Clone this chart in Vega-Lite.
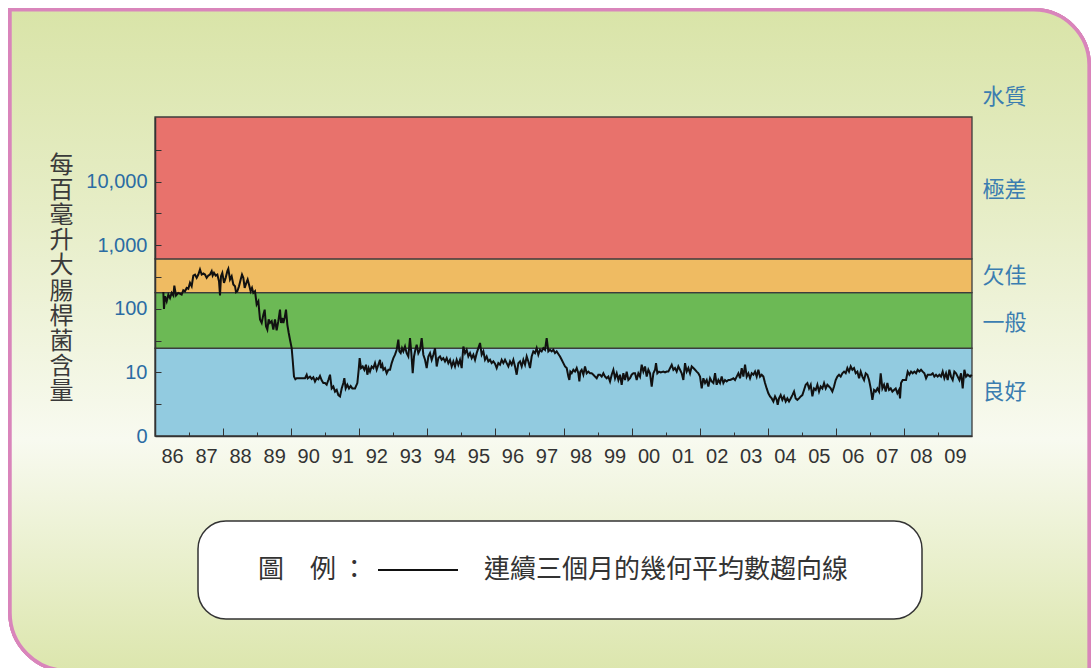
{
  "$schema": "https://vega.github.io/schema/vega-lite/v6.json",
  "width": 817,
  "height": 319,
  "autosize": {"type": "none"},
  "padding": {"left": 155, "top": 117, "right": 119, "bottom": 232},
  "background": "#ffffff",
  "config": {
    "view": {"stroke": null},
    "axis": {"grid": false, "labelFont": "Liberation Sans"}
  },
  "datasets": {
    "bands": [
      {"grade": "良好", "lo": 1, "hi": 24},
      {"grade": "一般", "lo": 24, "hi": 180},
      {"grade": "欠佳", "lo": 180, "hi": 610},
      {"grade": "極差", "lo": 610, "hi": 104000}
    ],
    "series": [
      {"t":1986.245,"v":184},{"t":1986.264,"v":99.5},{"t":1986.294,"v":158},{"t":1986.343,"v":131},{"t":1986.392,"v":167},{"t":1986.441,"v":148},{"t":1986.490,"v":178},{"t":1986.539,"v":162},{"t":1986.568,"v":232},{"t":1986.617,"v":162},{"t":1986.685,"v":178},{"t":1986.783,"v":167},{"t":1986.832,"v":196},{"t":1986.881,"v":189},{"t":1986.930,"v":213},{"t":1986.979,"v":206},
      {"t":1987.028,"v":256},{"t":1987.077,"v":227},{"t":1987.126,"v":334},{"t":1987.175,"v":346},{"t":1987.224,"v":307},{"t":1987.273,"v":346},{"t":1987.322,"v":415},{"t":1987.371,"v":346},{"t":1987.420,"v":359},{"t":1987.469,"v":346},{"t":1987.518,"v":307},{"t":1987.567,"v":334},{"t":1987.616,"v":346},{"t":1987.665,"v":391},{"t":1987.694,"v":334},{"t":1987.733,"v":368},{"t":1987.782,"v":334},{"t":1987.831,"v":346},{"t":1987.880,"v":272},{"t":1987.910,"v":162},{"t":1987.939,"v":326},{"t":1987.978,"v":368},
      {"t":1988.027,"v":256},{"t":1988.076,"v":307},{"t":1988.125,"v":391},{"t":1988.154,"v":426},{"t":1988.203,"v":289},{"t":1988.252,"v":326},{"t":1988.301,"v":241},{"t":1988.350,"v":227},{"t":1988.380,"v":182},{"t":1988.419,"v":189},{"t":1988.468,"v":227},{"t":1988.517,"v":289},{"t":1988.556,"v":346},{"t":1988.595,"v":307},{"t":1988.634,"v":213},{"t":1988.683,"v":256},{"t":1988.722,"v":289},{"t":1988.761,"v":241},{"t":1988.810,"v":189},{"t":1988.850,"v":213},{"t":1988.889,"v":178},{"t":1988.938,"v":189},{"t":1988.987,"v":117},
      {"t":1989.036,"v":131},{"t":1989.085,"v":68},{"t":1989.134,"v":60},{"t":1989.183,"v":81},{"t":1989.222,"v":97},{"t":1989.261,"v":53},{"t":1989.300,"v":47},{"t":1989.339,"v":68},{"t":1989.378,"v":60},{"t":1989.427,"v":64},{"t":1989.476,"v":47},{"t":1989.525,"v":68},{"t":1989.574,"v":46},{"t":1989.623,"v":64},{"t":1989.672,"v":97},{"t":1989.702,"v":60},{"t":1989.741,"v":72},{"t":1989.770,"v":60},{"t":1989.809,"v":72},{"t":1989.848,"v":97},{"t":1989.888,"v":56},{"t":1989.927,"v":42},{"t":1989.966,"v":32.7},
      {"t":1990.015,"v":24.1},{"t":1990.044,"v":15.8},{"t":1990.083,"v":8.6},{"t":1990.123,"v":7.8},{"t":1990.162,"v":8.1},{"t":1990.407,"v":8.1},{"t":1990.456,"v":9.2},{"t":1990.485,"v":8.1},{"t":1990.553,"v":8.6},{"t":1990.602,"v":7.9},{"t":1990.651,"v":8.4},{"t":1990.700,"v":7.2},{"t":1990.749,"v":8.1},{"t":1990.798,"v":7.8},{"t":1990.847,"v":8.8},{"t":1990.896,"v":7.5},{"t":1990.945,"v":6.8},{"t":1990.994,"v":6.8},
      {"t":1991.043,"v":6.4},{"t":1991.092,"v":7.6},{"t":1991.141,"v":9.2},{"t":1991.190,"v":5.6},{"t":1991.239,"v":6.0},{"t":1991.288,"v":5.0},{"t":1991.337,"v":5.3},{"t":1991.386,"v":4.4},{"t":1991.435,"v":4.2},{"t":1991.484,"v":5.6},{"t":1991.533,"v":6.8},{"t":1991.562,"v":8.1},{"t":1991.601,"v":5.6},{"t":1991.650,"v":6.4},{"t":1991.699,"v":5.6},{"t":1991.748,"v":6.1},{"t":1991.797,"v":5.6},{"t":1991.875,"v":5.6},{"t":1991.944,"v":6.8},{"t":1991.983,"v":11.0},
      {"t":1992.012,"v":16.8},{"t":1992.052,"v":11.7},{"t":1992.101,"v":12.4},{"t":1992.150,"v":11.0},{"t":1992.199,"v":13.2},{"t":1992.238,"v":9.2},{"t":1992.277,"v":11.7},{"t":1992.316,"v":10.3},{"t":1992.365,"v":12.4},{"t":1992.414,"v":11.7},{"t":1992.463,"v":14.0},{"t":1992.512,"v":11.0},{"t":1992.561,"v":13.2},{"t":1992.610,"v":15.8},{"t":1992.639,"v":11.7},{"t":1992.678,"v":13.2},{"t":1992.708,"v":11.0},{"t":1992.757,"v":11.7},{"t":1992.806,"v":9.7},{"t":1992.855,"v":11.0},{"t":1992.904,"v":11.0},{"t":1992.953,"v":14.0},
      {"t":1993.002,"v":16.8},{"t":1993.051,"v":19.0},{"t":1993.100,"v":22.7},{"t":1993.148,"v":32.7},{"t":1993.178,"v":21.4},{"t":1993.217,"v":20.1},{"t":1993.256,"v":24.1},{"t":1993.295,"v":21.4},{"t":1993.344,"v":25.6},{"t":1993.393,"v":20.1},{"t":1993.442,"v":17.8},{"t":1993.491,"v":34.7},{"t":1993.530,"v":20.1},{"t":1993.570,"v":9.7},{"t":1993.609,"v":17.8},{"t":1993.648,"v":22.7},{"t":1993.687,"v":27.2},{"t":1993.736,"v":20.1},{"t":1993.785,"v":22.7},{"t":1993.834,"v":34.7},{"t":1993.883,"v":19.0},{"t":1993.932,"v":15.8},{"t":1993.981,"v":11.7},
      {"t":1994.030,"v":17.8},{"t":1994.079,"v":20.1},{"t":1994.128,"v":15.8},{"t":1994.177,"v":19.0},{"t":1994.226,"v":24.1},{"t":1994.275,"v":12.4},{"t":1994.324,"v":16.8},{"t":1994.373,"v":17.8},{"t":1994.421,"v":15.8},{"t":1994.470,"v":16.8},{"t":1994.519,"v":14.9},{"t":1994.568,"v":16.8},{"t":1994.617,"v":14.0},{"t":1994.666,"v":15.8},{"t":1994.715,"v":12.4},{"t":1994.764,"v":14.9},{"t":1994.813,"v":12.4},{"t":1994.862,"v":15.8},{"t":1994.911,"v":13.2},{"t":1994.960,"v":15.8},
      {"t":1995.009,"v":11.7},{"t":1995.058,"v":25.6},{"t":1995.107,"v":20.1},{"t":1995.156,"v":22.7},{"t":1995.205,"v":17.8},{"t":1995.254,"v":20.1},{"t":1995.303,"v":16.8},{"t":1995.352,"v":19.0},{"t":1995.401,"v":15.8},{"t":1995.450,"v":20.1},{"t":1995.499,"v":24.1},{"t":1995.548,"v":29},{"t":1995.597,"v":19.0},{"t":1995.646,"v":21.4},{"t":1995.694,"v":15.8},{"t":1995.743,"v":17.8},{"t":1995.792,"v":14.9},{"t":1995.841,"v":15.8},{"t":1995.890,"v":14.0},{"t":1995.939,"v":14.9},{"t":1995.988,"v":13.7},
      {"t":1996.037,"v":11.7},{"t":1996.086,"v":14.0},{"t":1996.135,"v":13.2},{"t":1996.184,"v":15.8},{"t":1996.233,"v":14.0},{"t":1996.282,"v":15.8},{"t":1996.331,"v":14.0},{"t":1996.380,"v":12.4},{"t":1996.429,"v":14.9},{"t":1996.478,"v":13.2},{"t":1996.527,"v":15.8},{"t":1996.576,"v":12.4},{"t":1996.625,"v":9.2},{"t":1996.674,"v":14.0},{"t":1996.723,"v":14.9},{"t":1996.772,"v":12.4},{"t":1996.821,"v":15.8},{"t":1996.870,"v":13.2},{"t":1996.919,"v":17.8},{"t":1996.967,"v":14.9},
      {"t":1997.016,"v":11.7},{"t":1997.065,"v":17.8},{"t":1997.114,"v":21.4},{"t":1997.163,"v":20.1},{"t":1997.212,"v":24.1},{"t":1997.261,"v":19.0},{"t":1997.310,"v":22.7},{"t":1997.359,"v":21.4},{"t":1997.408,"v":24.1},{"t":1997.457,"v":22.7},{"t":1997.506,"v":34.7},{"t":1997.555,"v":21.4},{"t":1997.604,"v":22.7},{"t":1997.653,"v":21.4},{"t":1997.702,"v":22.7},{"t":1997.751,"v":20.1},{"t":1997.800,"v":21.4},{"t":1997.849,"v":19.5},{"t":1997.898,"v":17.8},{"t":1997.947,"v":15.8},{"t":1997.996,"v":14.0},
      {"t":1998.045,"v":12.4},{"t":1998.094,"v":11.7},{"t":1998.143,"v":8.6},{"t":1998.172,"v":7.6},{"t":1998.201,"v":10.3},{"t":1998.241,"v":9.7},{"t":1998.290,"v":11.0},{"t":1998.339,"v":10.3},{"t":1998.388,"v":11.7},{"t":1998.436,"v":9.7},{"t":1998.466,"v":7.2},{"t":1998.495,"v":10.3},{"t":1998.534,"v":11.0},{"t":1998.583,"v":9.2},{"t":1998.632,"v":12.4},{"t":1998.681,"v":9.7},{"t":1998.730,"v":10.3},{"t":1998.779,"v":9.7},{"t":1998.828,"v":9.7},{"t":1998.877,"v":9.2},{"t":1998.926,"v":8.6},{"t":1998.975,"v":8.1},
      {"t":1999.024,"v":9.2},{"t":1999.073,"v":9.2},{"t":1999.122,"v":8.6},{"t":1999.171,"v":9.7},{"t":1999.220,"v":8.6},{"t":1999.269,"v":8.1},{"t":1999.318,"v":8.6},{"t":1999.367,"v":7.2},{"t":1999.416,"v":9.2},{"t":1999.465,"v":11.0},{"t":1999.514,"v":8.1},{"t":1999.563,"v":9.7},{"t":1999.612,"v":7.6},{"t":1999.660,"v":9.2},{"t":1999.709,"v":6.4},{"t":1999.758,"v":9.7},{"t":1999.807,"v":7.6},{"t":1999.856,"v":10.3},{"t":1999.905,"v":7.6},{"t":1999.954,"v":8.1},
      {"t":2000.003,"v":9.2},{"t":2000.052,"v":9.7},{"t":2000.101,"v":9.7},{"t":2000.150,"v":7.6},{"t":2000.199,"v":9.7},{"t":2000.248,"v":8.6},{"t":2000.297,"v":13.2},{"t":2000.346,"v":10.3},{"t":2000.395,"v":12.4},{"t":2000.444,"v":8.6},{"t":2000.493,"v":11.0},{"t":2000.542,"v":9.7},{"t":2000.591,"v":6.0},{"t":2000.640,"v":9.7},{"t":2000.689,"v":11.0},{"t":2000.718,"v":14.0},{"t":2000.757,"v":9.7},{"t":2000.806,"v":10.3},{"t":2000.855,"v":10.0},{"t":2000.934,"v":10.3},{"t":2000.983,"v":10.0},
      {"t":2001.032,"v":10.3},{"t":2001.081,"v":10.3},{"t":2001.130,"v":11.7},{"t":2001.179,"v":13.2},{"t":2001.228,"v":11.0},{"t":2001.276,"v":11.7},{"t":2001.325,"v":10.3},{"t":2001.374,"v":12.4},{"t":2001.423,"v":11.0},{"t":2001.472,"v":9.7},{"t":2001.521,"v":7.6},{"t":2001.570,"v":14.0},{"t":2001.619,"v":10.3},{"t":2001.668,"v":11.7},{"t":2001.717,"v":9.7},{"t":2001.766,"v":12.4},{"t":2001.815,"v":11.7},{"t":2001.864,"v":11.0},{"t":2001.913,"v":10.3},{"t":2001.962,"v":9.7},
      {"t":2002.011,"v":8.6},{"t":2002.060,"v":5.6},{"t":2002.109,"v":8.1},{"t":2002.158,"v":6.8},{"t":2002.207,"v":7.6},{"t":2002.256,"v":6.0},{"t":2002.305,"v":8.1},{"t":2002.354,"v":7.2},{"t":2002.403,"v":6.8},{"t":2002.452,"v":9.7},{"t":2002.500,"v":6.4},{"t":2002.549,"v":7.6},{"t":2002.598,"v":6.8},{"t":2002.647,"v":8.6},{"t":2002.696,"v":6.8},{"t":2002.745,"v":7.6},{"t":2002.794,"v":7.2},{"t":2002.843,"v":7.6},{"t":2002.892,"v":7.6},{"t":2002.941,"v":7.8},{"t":2002.990,"v":8.1},
      {"t":2003.039,"v":7.6},{"t":2003.088,"v":8.6},{"t":2003.137,"v":9.7},{"t":2003.186,"v":8.1},{"t":2003.235,"v":11.7},{"t":2003.284,"v":8.6},{"t":2003.333,"v":13.2},{"t":2003.382,"v":8.6},{"t":2003.431,"v":9.7},{"t":2003.480,"v":8.1},{"t":2003.529,"v":9.7},{"t":2003.578,"v":9.2},{"t":2003.627,"v":10.3},{"t":2003.675,"v":8.6},{"t":2003.724,"v":11.0},{"t":2003.773,"v":8.6},{"t":2003.822,"v":9.2},{"t":2003.871,"v":8.6},{"t":2003.920,"v":6.8},{"t":2003.969,"v":5.6},
      {"t":2004.018,"v":4.7},{"t":2004.067,"v":4.2},{"t":2004.116,"v":3.9},{"t":2004.165,"v":3.5},{"t":2004.214,"v":4.2},{"t":2004.263,"v":3.7},{"t":2004.292,"v":3.1},{"t":2004.331,"v":3.9},{"t":2004.380,"v":4.4},{"t":2004.429,"v":3.7},{"t":2004.478,"v":4.2},{"t":2004.527,"v":3.5},{"t":2004.576,"v":3.9},{"t":2004.625,"v":3.5},{"t":2004.674,"v":3.9},{"t":2004.723,"v":4.4},{"t":2004.772,"v":5.0},{"t":2004.821,"v":3.9},{"t":2004.870,"v":3.7},{"t":2004.919,"v":3.9},{"t":2004.968,"v":4.2},
      {"t":2005.017,"v":4.4},{"t":2005.066,"v":5.3},{"t":2005.115,"v":6.4},{"t":2005.164,"v":6.8},{"t":2005.213,"v":5.6},{"t":2005.262,"v":6.4},{"t":2005.311,"v":4.2},{"t":2005.360,"v":5.6},{"t":2005.409,"v":5.3},{"t":2005.458,"v":6.4},{"t":2005.507,"v":5.0},{"t":2005.556,"v":6.0},{"t":2005.605,"v":5.6},{"t":2005.654,"v":6.8},{"t":2005.703,"v":5.6},{"t":2005.751,"v":6.4},{"t":2005.800,"v":6.0},{"t":2005.849,"v":5.6},{"t":2005.898,"v":5.0},{"t":2005.947,"v":6.0},{"t":2005.996,"v":7.6},
      {"t":2006.045,"v":8.6},{"t":2006.094,"v":9.2},{"t":2006.143,"v":8.6},{"t":2006.192,"v":9.7},{"t":2006.241,"v":10.3},{"t":2006.290,"v":9.7},{"t":2006.339,"v":11.7},{"t":2006.388,"v":10.3},{"t":2006.437,"v":12.4},{"t":2006.486,"v":11.0},{"t":2006.535,"v":11.7},{"t":2006.584,"v":9.7},{"t":2006.633,"v":10.3},{"t":2006.682,"v":8.1},{"t":2006.731,"v":10.3},{"t":2006.780,"v":8.6},{"t":2006.829,"v":7.6},{"t":2006.878,"v":9.7},{"t":2006.927,"v":9.2},{"t":2006.976,"v":7.6},
      {"t":2007.025,"v":5.6},{"t":2007.074,"v":3.7},{"t":2007.123,"v":5.3},{"t":2007.172,"v":5.0},{"t":2007.221,"v":5.6},{"t":2007.270,"v":5.0},{"t":2007.318,"v":9.7},{"t":2007.367,"v":5.6},{"t":2007.416,"v":6.4},{"t":2007.465,"v":5.0},{"t":2007.514,"v":6.8},{"t":2007.563,"v":5.3},{"t":2007.612,"v":5.6},{"t":2007.661,"v":5.0},{"t":2007.710,"v":5.3},{"t":2007.759,"v":5.6},{"t":2007.808,"v":4.7},{"t":2007.857,"v":5.3},{"t":2007.886,"v":3.9},{"t":2007.915,"v":6.8},{"t":2007.964,"v":7.6},
      {"t":2008.013,"v":7.6},{"t":2008.062,"v":7.6},{"t":2008.111,"v":10.3},{"t":2008.160,"v":9.2},{"t":2008.209,"v":10.3},{"t":2008.258,"v":9.7},{"t":2008.307,"v":10.3},{"t":2008.356,"v":9.7},{"t":2008.405,"v":11.0},{"t":2008.454,"v":10.3},{"t":2008.503,"v":11.0},{"t":2008.552,"v":10.3},{"t":2008.601,"v":9.7},{"t":2008.650,"v":8.1},{"t":2008.699,"v":9.2},{"t":2008.748,"v":9.2},{"t":2008.797,"v":9.2},{"t":2008.846,"v":9.7},{"t":2008.894,"v":8.6},{"t":2008.943,"v":9.2},{"t":2008.992,"v":8.6},
      {"t":2009.041,"v":9.2},{"t":2009.090,"v":8.6},{"t":2009.139,"v":10.3},{"t":2009.188,"v":8.1},{"t":2009.237,"v":9.7},{"t":2009.286,"v":7.6},{"t":2009.335,"v":11.0},{"t":2009.384,"v":8.6},{"t":2009.433,"v":7.6},{"t":2009.482,"v":10.3},{"t":2009.531,"v":9.7},{"t":2009.580,"v":8.6},{"t":2009.629,"v":7.6},{"t":2009.678,"v":9.7},{"t":2009.727,"v":5.6},{"t":2009.776,"v":11.0},{"t":2009.825,"v":8.6},{"t":2009.874,"v":9.2},{"t":2009.943,"v":8.6},{"t":2009.992,"v":9.2}
    ]
  },
  "resolve": {"axis": {"x": "independent", "y": "independent"}},
  "layer": [
    {
      "data": {"name": "bands"},
      "mark": {
        "type": "rect",
        "clip": false,
        "cornerRadiusTopRight": 55,
        "cornerRadiusBottomLeft": 58,
        "stroke": "#d985bb",
        "strokeWidth": 3.5,
        "fill": {
          "gradient": "linear", "x1": 0, "y1": 0, "x2": 0, "y2": 1,
          "stops": [
            {"offset": 0, "color": "#d9e4a8"},
            {"offset": 0.3, "color": "#e6edc6"},
            {"offset": 0.65, "color": "#f8faf0"},
            {"offset": 1, "color": "#dce6ad"}
          ]
        }
      },
      "encoding": {
        "x": {"datum": 1981.74, "type": "quantitative", "scale": {"domain": [1986, 2010], "nice": false, "zero": false}, "axis": null},
        "x2": {"datum": 2013.44},
        "y": {"datum": 5050000, "type": "quantitative", "scale": {"type": "log", "domain": [1, 104000], "nice": false}, "axis": null},
        "y2": {"datum": 0.000204}
      }
    },
    {
      "data": {"name": "bands"},
      "mark": {"type": "rect", "stroke": "#3c3c3c", "strokeWidth": 1.3},
      "encoding": {
        "y": {
          "field": "lo", "type": "quantitative",
          "scale": {"type": "log", "domain": [1, 104000], "nice": false},
          "axis": {
            "orient": "left",
            "zindex": 1,
            "values": [1, 3.1623, 10, 31.623, 100, 316.23, 1000, 3162.3, 10000, 31623],
            "labelExpr": "datum.value < 2 ? '0' : (indexof([10, 100, 1000, 10000], datum.value) >= 0 ? format(datum.value, ',') : '')",
            "tickSize": -6,
            "tickColor": "#333333",
            "tickWidth": 1,
            "domain": true,
            "domainColor": "#333333",
            "domainWidth": 1.5,
            "labelColor": "#2b6ca3",
            "labelFont": "Liberation Sans",
            "labelFontSize": 20,
            "labelPadding": 14,
            "labelOverlap": false,
            "title": ["每", "百", "毫", "升", "大", "腸", "桿", "菌", "含", "量"],
            "titleAngle": 0,
            "titleX": -94,
            "titleY": 36,
            "titleAlign": "center",
            "titleBaseline": "top",
            "titleFont": "Noto Sans CJK TC",
            "titleFontSize": 24,
            "titleFontWeight": "normal",
            "titleColor": "#3a3a3a",
            "titleLineHeight": 25.2
          }
        },
        "y2": {"field": "hi"},
        "fill": {
          "field": "grade", "type": "nominal",
          "scale": {"domain": ["良好", "一般", "欠佳", "極差"], "range": ["#92cbe0", "#6cb955", "#efbb62", "#e8726c"]},
          "legend": null
        }
      }
    },
    {
      "data": {"name": "series"},
      "mark": {"type": "line", "strokeWidth": 2, "strokeJoin": "miter"},
      "encoding": {
        "x": {
          "field": "t", "type": "quantitative",
          "scale": {"domain": [1986, 2010], "nice": false, "zero": false},
          "axis": {
            "orient": "bottom",
            "zindex": 1,
            "values": [1986.5, 1987, 1987.5, 1988, 1988.5, 1989, 1989.5, 1990, 1990.5, 1991, 1991.5, 1992, 1992.5, 1993, 1993.5, 1994, 1994.5, 1995, 1995.5, 1996, 1996.5, 1997, 1997.5, 1998, 1998.5, 1999, 1999.5, 2000, 2000.5, 2001, 2001.5, 2002, 2002.5, 2003, 2003.5, 2004, 2004.5, 2005, 2005.5, 2006, 2006.5, 2007, 2007.5, 2008, 2008.5, 2009, 2009.5],
            "labelExpr": "datum.value % 1 != 0 ? format(floor(datum.value) % 100, '02d') : ''",
            "tickSize": {"condition": [{"test": "datum.value % 1 != 0", "value": 0}, {"test": "datum.value % 2 == 0", "value": -8}], "value": -4},
            "tickColor": "#333333",
            "tickWidth": 1,
            "domain": true,
            "domainColor": "#333333",
            "domainWidth": 1.5,
            "labelColor": "#333333",
            "labelFont": "Liberation Sans",
            "labelFontSize": 20,
            "labelPadding": 10,
            "labelOverlap": false,
            "labelFlush": false,
            "title": null
          }
        },
        "y": {
          "field": "v", "type": "quantitative",
          "scale": {"type": "log", "domain": [1, 104000], "nice": false},
          "axis": {
            "orient": "right",
            "zindex": 1,
            "values": [5, 61.6, 337, 7500],
            "labelExpr": "datum.value < 10 ? '良好' : datum.value < 100 ? '一般' : datum.value < 1000 ? '欠佳' : '極差'",
            "ticks": false,
            "tickSize": 0,
            "domain": false,
            "labelPadding": 10,
            "labelFont": "Noto Sans CJK TC",
            "labelFontSize": 22,
            "labelColor": "#3b7db0",
            "labelOverlap": false,
            "title": "水質",
            "titleAngle": 0,
            "titleX": 10,
            "titleY": -21,
            "titleAlign": "left",
            "titleBaseline": "middle",
            "titleFont": "Noto Sans CJK TC",
            "titleFontSize": 22,
            "titleFontWeight": "normal",
            "titleColor": "#3b7db0"
          }
        },
        "stroke": {
          "datum": "連續三個月的幾何平均數趨向線",
          "type": "nominal",
          "scale": {"range": ["#111111"]},
          "legend": {
            "orient": "none",
            "legendX": 43,
            "legendY": 404,
            "direction": "horizontal",
            "title": "\u200b\u3000\u3000圖\u3000例\u2009：",
            "titleOrient": "left",
            "titleAnchor": "middle",
            "titleBaseline": "middle",
            "titleFont": "Noto Sans CJK TC",
            "titleFontSize": 26,
            "titleFontWeight": "normal",
            "titleColor": "#333333",
            "titlePadding": 9,
            "titleLimit": 1000,
            "labelFont": "Noto Sans CJK TC",
            "labelFontSize": 26,
            "labelColor": "#333333",
            "labelOffset": 25,
            "labelLimit": 1000,
            "labelExpr": "['', datum.label + '\u3000\u3000\u2002\u200b', '']",
            "symbolType": "stroke",
            "symbolSize": 6400,
            "symbolStrokeWidth": 2,
            "symbolStrokeColor": "#111111",
            "fillColor": "#ffffff",
            "strokeColor": "#333333",
            "cornerRadius": 28,
            "padding": 8,
            "encode": {
              "legend": {"update": {"strokeWidth": {"value": 1.5}}},
              "labels": {"update": {"dy": {"value": -28}, "lineHeight": {"value": 28}}}
            }
          }
        }
      }
    }
  ]
}
